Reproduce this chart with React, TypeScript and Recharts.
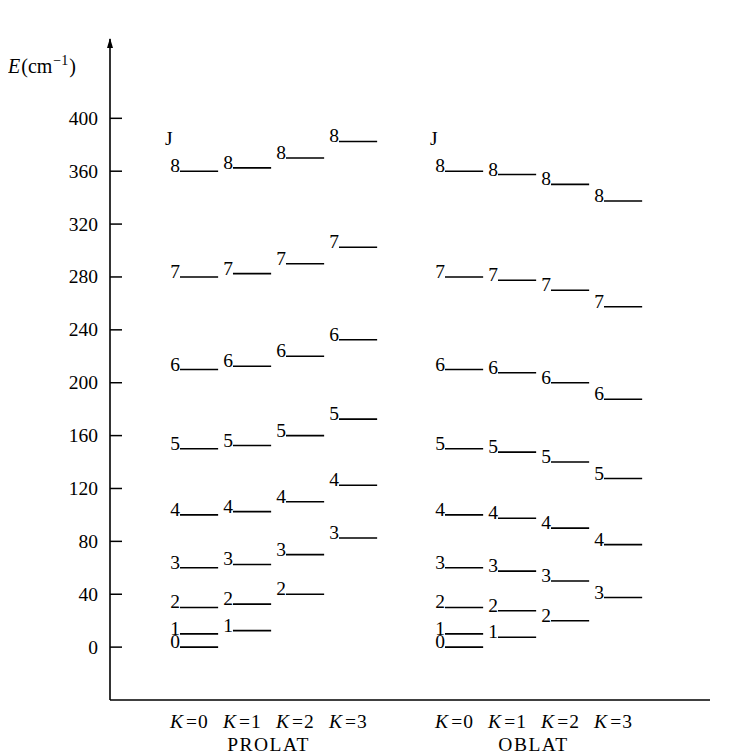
import React from 'react';
import { ComposedChart, Line, XAxis, YAxis, Scatter, ReferenceDot, LabelList } from 'recharts';

// Energy levels E (cm^-1), listed from the lowest J (= K) up to J = 8
const prolateK0 = [0, 10, 30, 60, 100, 150, 210, 280, 360];
const prolateK1 = [12.5, 32.5, 62.5, 102.5, 152.5, 212.5, 282.5, 362.5];
const prolateK2 = [40, 70, 110, 160, 220, 290, 370];
const prolateK3 = [82.5, 122.5, 172.5, 232.5, 302.5, 382.5];
const oblateK0 = [0, 10, 30, 60, 100, 150, 210, 280, 360];
const oblateK1 = [7.5, 27.5, 57.5, 97.5, 147.5, 207.5, 277.5, 357.5];
const oblateK2 = [20, 50, 90, 140, 200, 270, 350];
const oblateK3 = [37.5, 77.5, 127.5, 187.5, 257.5, 337.5];

const kValues = [0, 1, 2, 3];
const groupNames = ['PROLAT', 'OBLAT'];
const yTicks = [0, 40, 80, 120, 160, 200, 240, 280, 320, 360, 400];
const headerText = 'J';
const headerEnergy = 380;

// category slots on the x axis (one empty slot between the groups)
const prolateSlots = [0, 1, 2, 3];
const oblateSlots = [5, 6, 7, 8];

const LEVEL_WIDTH = 0.72;
const LABEL_SHIFT = 0.17;
const X_DOMAIN: [number, number] = [-1.32, 10];
const Y_DOMAIN: [number, number] = [-40, 460];

const FONT = '"Liberation Serif", "DejaVu Serif", serif';
const FS = 19.5;

const columns = [
  { slot: prolateSlots[0], k: kValues[0], levels: prolateK0 },
  { slot: prolateSlots[1], k: kValues[1], levels: prolateK1 },
  { slot: prolateSlots[2], k: kValues[2], levels: prolateK2 },
  { slot: prolateSlots[3], k: kValues[3], levels: prolateK3 },
  { slot: oblateSlots[0], k: kValues[0], levels: oblateK0 },
  { slot: oblateSlots[1], k: kValues[1], levels: oblateK1 },
  { slot: oblateSlots[2], k: kValues[2], levels: oblateK2 },
  { slot: oblateSlots[3], k: kValues[3], levels: oblateK3 },
];

const columnData = columns.map((c) =>
  c.levels.flatMap((e, i) => [
    { x: c.slot, y: e, J: c.k + i },
    { x: c.slot + LEVEL_WIDTH, y: e },
    { x: c.slot + LEVEL_WIDTH, y: null },
  ])
);

const kTicks = [...prolateSlots, ...oblateSlots].map((s) => s + LABEL_SHIFT);
const kTickLabel: Record<string, number> = {};
[...prolateSlots, ...oblateSlots].forEach((s, i) => {
  kTickLabel[(s + LABEL_SHIFT).toFixed(3)] = kValues[i % 4];
});

const mean = (a: number[]) => a.reduce((s, v) => s + v, 0) / a.length;
const groupData = [
  { x: mean(prolateSlots) + LABEL_SHIFT, y: Y_DOMAIN[0], name: groupNames[0] },
  { x: mean(oblateSlots) + LABEL_SHIFT, y: Y_DOMAIN[0], name: groupNames[1] },
];

const headerData = [
  { x: prolateSlots[0], y: headerEnergy },
  { x: oblateSlots[0], y: headerEnergy },
];

const LevelLabel = (props: any) => {
  const { value } = props;
  if (value === undefined || value === null) return null;
  const x = props.x ?? props.viewBox?.x;
  const y = props.y ?? props.viewBox?.y;
  if (x == null || y == null || isNaN(x) || isNaN(y)) return null;
  return (
    <text x={x} y={y + 1} textAnchor="end" fontFamily={FONT} fontSize={FS} fill="#000">
      {value}
    </text>
  );
};

const YTick = (props: any) => {
  const { x, y, payload } = props;
  return (
    <g>
      <line x1={x + 12} x2={x + 24} y1={y} y2={y} stroke="#000" strokeWidth={1.5} />
      <text x={x} y={y + 6.5} textAnchor="end" fontFamily={FONT} fontSize={FS} fill="#000">
        {payload.value}
      </text>
    </g>
  );
};

const KTick = (props: any) => {
  const { x, y, payload } = props;
  const k = kTickLabel[Number(payload.value).toFixed(3)];
  return (
    <text x={x} y={y + 28} textAnchor="middle" fontFamily={FONT} fontSize={FS} fill="#000">
      <tspan fontStyle="italic">K</tspan>
      <tspan dx={3}>=</tspan>
      <tspan dx={1}>{k}</tspan>
    </text>
  );
};

const GroupShape = (props: any) => {
  const { cx, cy, payload } = props;
  return (
    <text
      x={cx}
      y={cy + 51}
      textAnchor="middle"
      fontFamily={FONT}
      fontSize={FS}
      letterSpacing={1.5}
      fill="#000"
    >
      {payload?.name}
    </text>
  );
};

const YLabel = (props: any) => {
  const vb = props.viewBox || { x: 0, y: 31 };
  return (
    <text x={vb.x + 0} y={vb.y + 34} fontFamily={FONT} fontSize={FS + 0.5} fill="#000">
      <tspan fontStyle="italic">E</tspan>
      <tspan dx={1}>(cm</tspan>
      <tspan dy={-8} dx={1} fontSize={14}>−1</tspan>
      <tspan dy={8} dx={1}>)</tspan>
    </text>
  );
};

const HeaderShape = (props: any) => {
  const { cx, cy } = props;
  return (
    <text x={cx - 15} y={cy} textAnchor="start" fontFamily={FONT} fontSize={FS} fill="#000">
      {headerText}
    </text>
  );
};

const ArrowHead = (props: any) => {
  const { cx, cy } = props;
  return <path d={`M${cx},${cy - 1} L${cx - 3},${cy + 9} L${cx + 3},${cy + 9} Z`} fill="#000" />;
};

export default function App() {
  return (
    <div style={{ width: 730, height: 747, background: '#fff' }}>
      <ComposedChart
        width={730}
        height={747}
        margin={{ top: 31, right: 28, bottom: 0, left: 0 }}
      >
        <XAxis
          type="number"
          dataKey="x"
          domain={X_DOMAIN}
          ticks={kTicks}
          interval={0}
          tick={<KTick />}
          tickLine={false}
          tickSize={0}
          tickMargin={0}
          height={55}
          axisLine={{ stroke: '#000', strokeWidth: 1.6 }}
        />
        <YAxis
          type="number"
          domain={Y_DOMAIN}
          ticks={yTicks}
          interval={0}
          width={102}
          tick={<YTick />}
          tickLine={false}
          tickSize={0}
          tickMargin={12}
          axisLine={{ stroke: '#000', strokeWidth: 1.6 }}
          label={{ content: <YLabel /> }}
        />
        {columnData.map((data, i) => (
          <Line
            key={i}
            data={data}
            dataKey="y"
            type="linear"
            stroke="#000"
            strokeWidth={1.6}
            dot={false}
            activeDot={false}
            connectNulls={false}
            isAnimationActive={false}
          >
            <LabelList dataKey="J" content={<LevelLabel />} />
          </Line>
        ))}
        <Scatter data={headerData} dataKey="y" shape={<HeaderShape />} isAnimationActive={false} />
        <Scatter data={groupData} dataKey="y" shape={<GroupShape />} isAnimationActive={false} />
        <ReferenceDot
          x={X_DOMAIN[0]}
          y={Y_DOMAIN[1]}
          ifOverflow="visible"
          shape={<ArrowHead />}
        />
      </ComposedChart>
    </div>
  );
}
